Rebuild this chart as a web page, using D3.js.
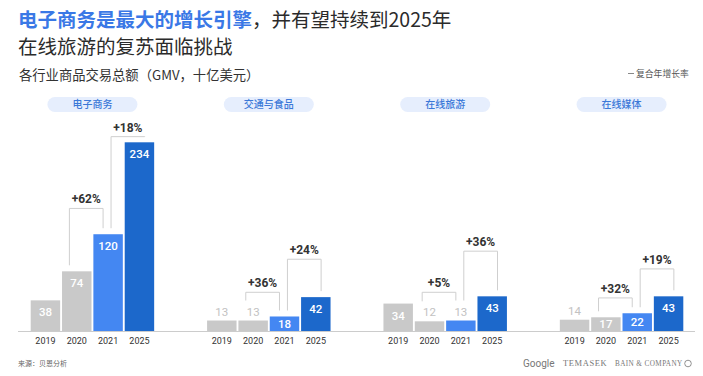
<!DOCTYPE html>
<html>
<head>
<meta charset="utf-8">
<script src="https://cdn.jsdelivr.net/npm/d3@7"></script>
<style>
  body { margin: 0; background: #ffffff; }
  svg { display: block; font-family: "Noto Sans CJK SC", "Noto Sans", sans-serif; }
</style>
</head>
<body>
<svg id="gmv-chart"></svg>
<script>
// DATA
let categories = ['电子商务', '交通与食品', '在线旅游', '在线媒体']
let years = ['2019', '2020', '2021', '2025']
let ecommerce = [38, 74, 120, 234]
let transportFood = [13, 13, 18, 42]
let onlineTravel = [34, 12, 13, 43]
let onlineMedia = [14, 17, 22, 43]
let cagrLabels = [['+62%', '+18%'], ['+36%', '+24%'], ['+5%', '+36%'], ['+32%', '+19%']]
// bracket heights, in GMV units
let cagrLevels = [[152, 241], [48, 89], [48, 99], [41, 77]]

let seriesValues = [ecommerce, transportFood, onlineTravel, onlineMedia]
let barColours = ['#c9c9c9', '#c9c9c9', '#4487f2', '#1c68cb']

function draw_gmv_chart() {

    let svgWidth = 703
    let svgHeight = 376
    let baseY = 331

    let svg = d3.select('#gmv-chart')
        .attr('width', svgWidth)
        .attr('height', svgHeight)

    // TITLE
    let title = svg.append('text')
        .attr('x', 18)
        .attr('y', 27)
        .attr('font-size', 19.5)
    title.append('tspan')
        .attr('fill', '#3a78e6')
        .attr('font-weight', 'bold')
        .text('电子商务是最大的增长引擎')
    title.append('tspan')
        .attr('fill', '#2b2b2b')
        .text('，并有望持续到2025年')

    svg.append('text')
        .attr('x', 18)
        .attr('y', 54)
        .attr('font-size', 19.5)
        .attr('fill', '#2b2b2b')
        .text('在线旅游的复苏面临挑战')

    svg.append('text')
        .attr('x', 19)
        .attr('y', 80)
        .attr('font-size', 13.3)
        .attr('fill', '#333')
        .text('各行业商品交易总额（GMV，十亿美元）')

    // LEGEND
    svg.append('line')
        .attr('x1', 628).attr('x2', 634)
        .attr('y1', 73.5).attr('y2', 73.5)
        .attr('stroke', '#888')
        .attr('stroke-width', 1)
    svg.append('text')
        .attr('x', 636)
        .attr('y', 76.5)
        .attr('font-size', 8.8)
        .attr('fill', '#555')
        .text('复合年增长率')

    // SCALES
    let panel = d3.scaleBand()
        .domain(categories)
        .range([30.7, 683.3])
        .paddingInner(0.3)
        .paddingOuter(0)
    let x = d3.scaleBand()
        .domain(years)
        .range([0, panel.bandwidth()])
        .paddingInner(0.06)
        .paddingOuter(0)
    let y = d3.scaleLinear()
        .domain([0, 234])
        .range([baseY, 142.3])
    let colour = d3.scaleOrdinal()
        .domain(years)
        .range(barColours)

    let panels = svg.selectAll('.panel')
        .data(categories.map((c, i) => ({
            category: c,
            values: seriesValues[i],
            cagr: cagrLabels[i],
            levels: cagrLevels[i]
        })))
        .join('g')
            .attr('class', 'panel')
            .attr('transform', d => `translate(${panel(d.category)}, 0)`)

    // PILL LABELS
    panels.append('rect')
        .attr('x', panel.bandwidth() / 2 - 45)
        .attr('y', 97)
        .attr('width', 90)
        .attr('height', 15)
        .attr('rx', 7.5)
        .attr('fill', '#e6eefd')
    panels.append('text')
        .attr('x', panel.bandwidth() / 2)
        .attr('y', 108)
        .attr('text-anchor', 'middle')
        .attr('font-size', 10)
        .attr('font-weight', 500)
        .attr('fill', '#3b78d8')
        .text(d => d.category)

    // BARS
    let bars = panels.selectAll('.bar')
        .data(d => d.values.map((v, j) => ({year: years[j], value: v})))
        .join('g')
            .attr('class', 'bar')

    bars.append('rect')
        .attr('x', d => x(d.year))
        .attr('y', d => y(d.value))
        .attr('width', x.bandwidth())
        .attr('height', d => baseY - y(d.value))
        .attr('fill', d => colour(d.year))

    // VALUE LABELS
    let insideLimit = 15
    bars.append('text')
        .attr('x', d => x(d.year) + x.bandwidth() / 2)
        .attr('y', d => {
            if (d.value >= insideLimit) {
                return Math.min(y(d.value) + 12, (y(d.value) + baseY) / 2) + 4
            }
            return y(d.value) - 5
        })
        .attr('text-anchor', 'middle')
        .attr('font-family', 'Roboto, sans-serif')
        .attr('font-size', 11.5)
        .attr('font-weight', d => d.value >= insideLimit ? 500 : 'normal')
        .attr('fill', d => d.value >= insideLimit ? '#ffffff' : '#c2c2c2')
        .text(d => d.value)

    // CAGR BRACKETS
    let legBottom = function(v) {
        if (v >= insideLimit) return y(v) - 6
        return y(v) - 20
    }

    panels.each(function(d) {
        let g = d3.select(this)
        let pairs = [
            {a: 1, b: 2, offA: 0.25, offB: 0.33},
            {a: 2, b: 3, offA: 0.6, offB: 0.68}
        ]
        pairs.forEach((p, k) => {
            let x1 = x(years[p.a]) + x.bandwidth() * p.offA
            let x2 = x(years[p.b]) + x.bandwidth() * p.offB
            let top = y(d.levels[k])
            g.append('path')
                .attr('d', `M${x1},${legBottom(d.values[p.a])}V${top}H${x2}V${legBottom(d.values[p.b])}`)
                .attr('fill', 'none')
                .attr('stroke', '#cfcfcf')
                .attr('stroke-width', 1)
            g.append('text')
                .attr('x', (x1 + x2) / 2)
                .attr('y', top - 5)
                .attr('text-anchor', 'middle')
                .attr('font-family', 'Roboto, sans-serif')
                .attr('font-size', 12)
                .attr('font-weight', 'bold')
                .attr('fill', '#333')
                .text(d.cagr[k])
        })
    })

    // YEAR AXIS
    panels.append('g')
        .attr('transform', `translate(0, ${baseY})`)
        .call(d3.axisBottom(x).tickSize(0).tickPadding(7))
        .call(g => g.select('.domain').remove())
        .attr('font-family', 'Roboto, sans-serif')
        .attr('font-size', 9)
        .selectAll('text')
            .attr('fill', '#333')

    svg.append('line')
        .attr('x1', 18).attr('x2', 695)
        .attr('y1', baseY + 0.5).attr('y2', baseY + 0.5)
        .attr('stroke', '#cccccc')
        .attr('stroke-width', 1)

    // FOOTER
    svg.append('text')
        .attr('x', 18)
        .attr('y', 366)
        .attr('font-size', 7)
        .attr('fill', '#666')
        .text('来源：贝恩分析')

    svg.append('text')
        .attr('x', 523)
        .attr('y', 366.5)
        .attr('font-family', 'Roboto, sans-serif')
        .attr('font-size', 10)
        .attr('fill', '#777')
        .text('Google')
    svg.append('text')
        .attr('x', 563)
        .attr('y', 366)
        .attr('font-family', '"Liberation Serif", serif')
        .attr('font-size', 8.5)
        .attr('letter-spacing', 0.6)
        .attr('fill', '#777')
        .text('TEMASEK')
    svg.append('text')
        .attr('x', 615)
        .attr('y', 366)
        .attr('font-family', '"Liberation Serif", serif')
        .attr('font-size', 7.2)
        .attr('letter-spacing', 0.4)
        .attr('fill', '#777')
        .text('BAIN & COMPANY')
    svg.append('circle')
        .attr('cx', 688)
        .attr('cy', 363.5)
        .attr('r', 3.3)
        .attr('fill', 'none')
        .attr('stroke', '#777')
        .attr('stroke-width', 0.8)
}

draw_gmv_chart()
</script>
</body>
</html>
